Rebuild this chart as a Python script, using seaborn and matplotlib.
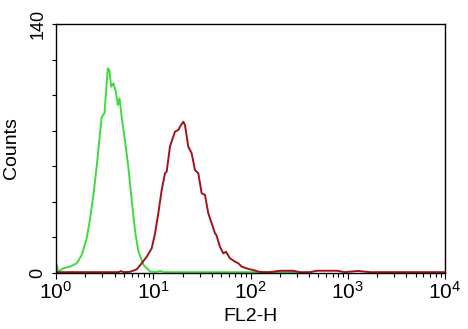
import numpy as np
import pandas as pd
import matplotlib
matplotlib.use("Agg")
import matplotlib.pyplot as plt
import seaborn as sns

# ---- data (log10 of FL2-H, counts) ----
green_log = [0.0, 0.007, 0.024, 0.075, 0.144, 0.213, 0.265, 0.316, 0.351, 0.385,
             0.420, 0.454, 0.471, 0.498, 0.515, 0.533, 0.549, 0.567, 0.591, 0.615,
             0.636, 0.653, 0.677, 0.711, 0.745, 0.780, 0.814, 0.848, 0.900, 0.969,
             1.030, 1.072, 1.110, 1.300, 1.600, 2.000, 2.500]
green_counts = [1.0, 4.7, 0.5, 2.5, 3.4, 5.3, 10.0, 19.4, 30.6, 43.7,
                60.6, 79.4, 87.8, 89.7, 101.9, 115.0, 114.0, 104.7, 106.6, 101.9,
                94.4, 98.2, 86.9, 73.8, 58.8, 40.0, 23.0, 11.8, 4.3, 0.6,
                0.4, 1.0, 0.3, 0.3, 0.3, 0.3, 0.3]

red_log = [0.0, 0.450, 0.640, 0.668, 0.700, 0.761, 0.830, 0.881, 0.933, 0.984,
           1.018, 1.052, 1.087, 1.121, 1.138, 1.172, 1.206, 1.224, 1.258, 1.275,
           1.309, 1.326, 1.360, 1.395, 1.429, 1.463, 1.498, 1.532, 1.566, 1.601,
           1.635, 1.649, 1.686, 1.720, 1.748, 1.789, 1.841, 1.875, 1.909, 1.943,
           1.977, 2.029, 2.080, 2.132, 2.200, 2.303, 2.437, 2.509, 2.612, 2.684,
           2.745, 2.817, 2.889, 2.970, 3.105, 3.229, 4.000]
red_counts = [0.3, 0.3, 0.3, 0.9, 0.3, 0.5, 1.9, 5.3, 9.0, 13.7,
              22.0, 33.4, 46.6, 56.0, 56.9, 71.0, 76.6, 79.4, 80.4, 82.2,
              85.0, 83.2, 71.0, 67.2, 57.8, 56.0, 44.7, 43.8, 33.4, 27.8,
              22.2, 21.2, 14.6, 10.9, 11.8, 8.1, 6.2, 5.3, 3.4, 2.8,
              2.1, 1.5, 0.6, 0.3, 0.3, 1.1, 1.1, 0.3, 0.3, 1.1,
              1.1, 1.1, 1.1, 0.3, 1.0, 0.3, 0.3]

x_ticks = [1, 10, 100, 1000, 10000]
x_tick_labels = ["$10^{0}$", "$10^{1}$", "$10^{2}$", "$10^{3}$", "$10^{4}$"]
y_ticks = [0, 140]

sns.set_style("ticks")
plt.rcParams["font.family"] = ["Liberation Sans", "DejaVu Sans"]
plt.rcParams["mathtext.fontset"] = "custom"
plt.rcParams["mathtext.rm"] = "Liberation Sans"
plt.rcParams["mathtext.it"] = "Liberation Sans"
plt.rcParams["mathtext.bf"] = "Liberation Sans"
plt.rcParams["text.color"] = "black"
plt.rcParams["axes.labelcolor"] = "black"
plt.rcParams["xtick.color"] = "black"
plt.rcParams["ytick.color"] = "black"

green = pd.DataFrame({"x": 10 ** np.array(green_log), "y": green_counts})
red = pd.DataFrame({"x": 10 ** np.array(red_log), "y": red_counts})

fig = plt.figure(figsize=(4.68, 3.29), dpi=100)
ax = fig.add_axes([56 / 468, 1 - 272.7 / 329, 389 / 468, 248.7 / 329])

sns.lineplot(data=green, x="x", y="y", ax=ax, color="#3ddc3d", lw=1.4,
             sort=False, estimator=None)
sns.lineplot(data=red, x="x", y="y", ax=ax, color="#a3121a", lw=1.4,
             sort=False, estimator=None)

ax.set_xscale("log")
ax.set_xlim(1, 10000)
ax.set_ylim(0, 140)

ax.set_xticks(x_ticks)
ax.set_xticklabels(x_tick_labels, fontsize=15)
ax.xaxis.set_minor_locator(matplotlib.ticker.LogLocator(base=10, subs=np.arange(2, 10)))
ax.xaxis.set_minor_formatter(matplotlib.ticker.NullFormatter())

ax.set_yticks(y_ticks)
ax.set_yticklabels([str(v) for v in y_ticks], fontsize=13, rotation=90, va="center")
ax.yaxis.set_minor_locator(matplotlib.ticker.MultipleLocator(20))

ax.tick_params(axis="x", which="major", length=4, width=0.8, pad=2, direction="out")
ax.tick_params(axis="x", which="minor", length=3, width=0.8, direction="out")
ax.tick_params(axis="y", which="major", length=3, width=0.8, pad=4, direction="out")
ax.tick_params(axis="y", which="minor", length=3, width=0.8, direction="out")

for s in ax.spines.values():
    s.set_visible(True)
    s.set_linewidth(1.0)
    s.set_color("black")

ax.set_xlabel("FL2-H", fontsize=14, labelpad=4)
ax.set_ylabel("Counts", fontsize=14, labelpad=7)

fig.savefig("out.png", dpi=100)
